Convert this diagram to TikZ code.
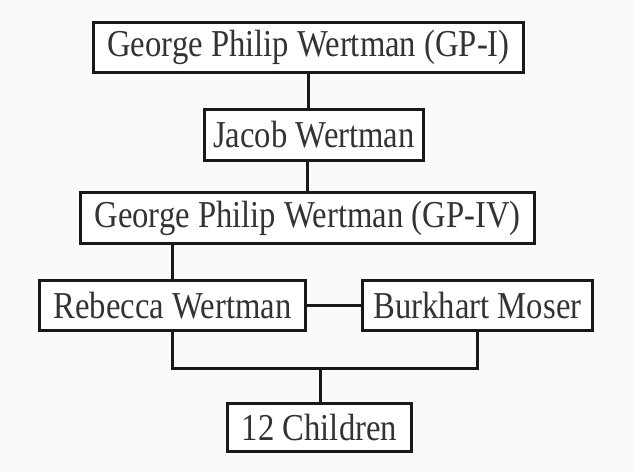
\documentclass[tikz,border=0pt]{standalone}
\usepackage{fontspec}
\setmainfont[FakeStretch=0.86]{Liberation Serif}
\begin{document}
\begin{tikzpicture}[x=1pt,y=-1pt,
  person/.style={draw=black!90, line width=3pt, fill=white, inner sep=0pt, align=center,
    font=\fontsize{38}{40}\selectfont, text=black!80},
  link/.style={draw=black!90, line width=3pt}]
\useasboundingbox[fill=black!2] (0,0) rectangle (635,472);
\node[person, minimum width=430, minimum height=50] (gp1) at (308.5,47.5) {George Philip Wertman (GP-I)};
\node[person, minimum width=219, minimum height=51] (jacob) at (314,135) {Jacob Wertman};
\node[person, minimum width=454, minimum height=51] (gp4) at (307.5,218) {George Philip Wertman (GP-IV)};
\node[person, minimum width=266, minimum height=50] (rebecca) at (172.5,305.5) {Rebecca Wertman};
\node[person, minimum width=230, minimum height=50] (burkhart) at (477.5,305.5) {Burkhart Moser};
\node[person, minimum width=184, minimum height=48] (children) at (319.5,427.5) {12 Children};
\coordinate (bus) at (320.5,368);
\draw[link] (gp1.south) -- (gp1.south |- jacob.north);
\draw[link] (gp4.north) -- (gp4.north |- jacob.south);
\draw[link] (rebecca.north) -- (rebecca.north |- gp4.south);
\draw[link] (rebecca.east) -- (burkhart.west);
\draw[link] (rebecca.south) |- (bus) -| (burkhart.south);
\draw[link] (bus) -- (bus |- children.north);
\end{tikzpicture}
\end{document}
